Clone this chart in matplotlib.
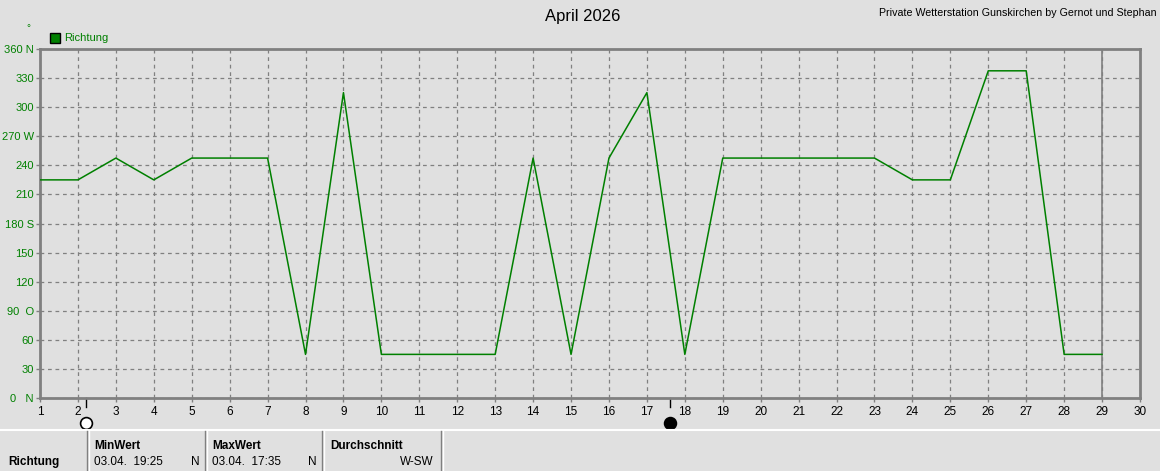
import numpy as np
import matplotlib
matplotlib.use("Agg")
import matplotlib.pyplot as plt
from matplotlib.patches import Rectangle

plt.rcParams['font.family'] = ['Liberation Sans', 'DejaVu Sans']

# data
days = list(range(1, 30))
richtung = [225, 225, 247.5, 225, 247.5, 247.5, 247.5, 45, 315, 45,
            45, 45, 45, 247.5, 45, 247.5, 315, 45, 247.5, 247.5,
            247.5, 247.5, 247.5, 225, 225, 337.5, 337.5, 45, 45]
y_ticks = [0, 30, 60, 90, 120, 150, 180, 210, 240, 270, 300, 330, 360]
y_labels = ["0   N", "30", "60", "90  O", "120", "150", "180 S", "210",
            "240", "270 W", "300", "330", "360 N"]
x_ticks = list(range(1, 31))
today = 29
moon_days = [2.2, 17.6]
moon_full = [False, True]

table_head = ["MinWert", "MaxWert", "Durchschnitt"]
table_vals = [("03.04.  19:25", "N"), ("03.04.  17:35", "N"), ("", "W-SW")]

W, H = 1160, 471
bg = "#e0e0e0"
green = "#008000"
gray = "#808080"


def px(x, y):
    "pixel coords (top-left origin) -> figure fraction"
    return x / W, 1 - y / H


fig = plt.figure(figsize=(W / 100, H / 100), dpi=100, facecolor=bg)
ax = fig.add_axes([40 / W, 1 - 398 / H, 1100 / W, 349 / H], facecolor=bg)

ax.plot(days, richtung, color=green, lw=1.1, zorder=3)
ax.axvline(today, color=gray, lw=1.2, zorder=2)

ax.set_xlim(1, 30)
ax.set_ylim(0, 360)
ax.set_xticks(x_ticks)
ax.set_xticklabels([str(d) for d in x_ticks], fontsize=8.5, color="black")
ax.set_yticks(y_ticks)
ax.set_yticklabels(y_labels, fontsize=8, color=green)
ax.tick_params(axis="both", length=3, width=1, color=gray, pad=1.5)
ax.tick_params(axis="x", pad=3)
ax.grid(True, color=gray, ls=(0, (3, 3)), lw=0.9)
for s in ax.spines.values():
    s.set_color(gray)
    s.set_linewidth(2)

# moon phase markers
moon_y = -25 / 349 * 360
for d, full in zip(moon_days, moon_full):
    ax.plot([d, d], [0, -0.026 * 360], color="black", lw=1, clip_on=False)
    ax.plot(d, moon_y, marker="o", ms=8.5,
            mfc="black" if full else "white", mec="black", mew=1.2,
            clip_on=False, zorder=5)

# titles
fig.text(*px(583, 16), "April 2026", ha="center", va="center", fontsize=12)
fig.text(*px(1157, 13), "Private Wetterstation Gunskirchen by Gernot und Stephan",
         ha="right", va="center", fontsize=7.7)
fig.text(*px(28, 28), "°", ha="center", va="center", fontsize=7, color=green)

# legend
fig.patches.append(Rectangle(px(50, 43), 10 / W, 10 / H, transform=fig.transFigure,
                             facecolor=green, edgecolor="black", lw=1))
fig.text(*px(64, 38), "Richtung", ha="left", va="center", fontsize=8, color=green)

# bottom table
fig.lines.append(plt.Line2D([0, 1], [px(0, 430)[1]] * 2, transform=fig.transFigure,
                            color="white", lw=1.5))
for xs in [87, 205, 322, 441]:
    fig.lines.append(plt.Line2D([xs / W] * 2, [px(0, 431)[1], 0], transform=fig.transFigure,
                                color=gray, lw=1))
    fig.lines.append(plt.Line2D([(xs + 1.5) / W] * 2, [px(0, 431)[1], 0],
                                transform=fig.transFigure, color="white", lw=1))
fig.text(*px(8, 462), "Richtung", ha="left", va="center", fontsize=8.5,
         fontweight="bold")
cell_left = [94, 212, 330]
cell_right = [200, 317, 434]
for head, (v, u), xl, xr in zip(table_head, table_vals, cell_left, cell_right):
    fig.text(*px(xl, 446), head, ha="left", va="center", fontsize=8.5,
             fontweight="bold")
    fig.text(*px(xl, 462), v, ha="left", va="center", fontsize=8.5)
    fig.text(*px(xr, 462), u, ha="right", va="center", fontsize=8.5)

fig.savefig("out.png", dpi=100, facecolor=bg)
